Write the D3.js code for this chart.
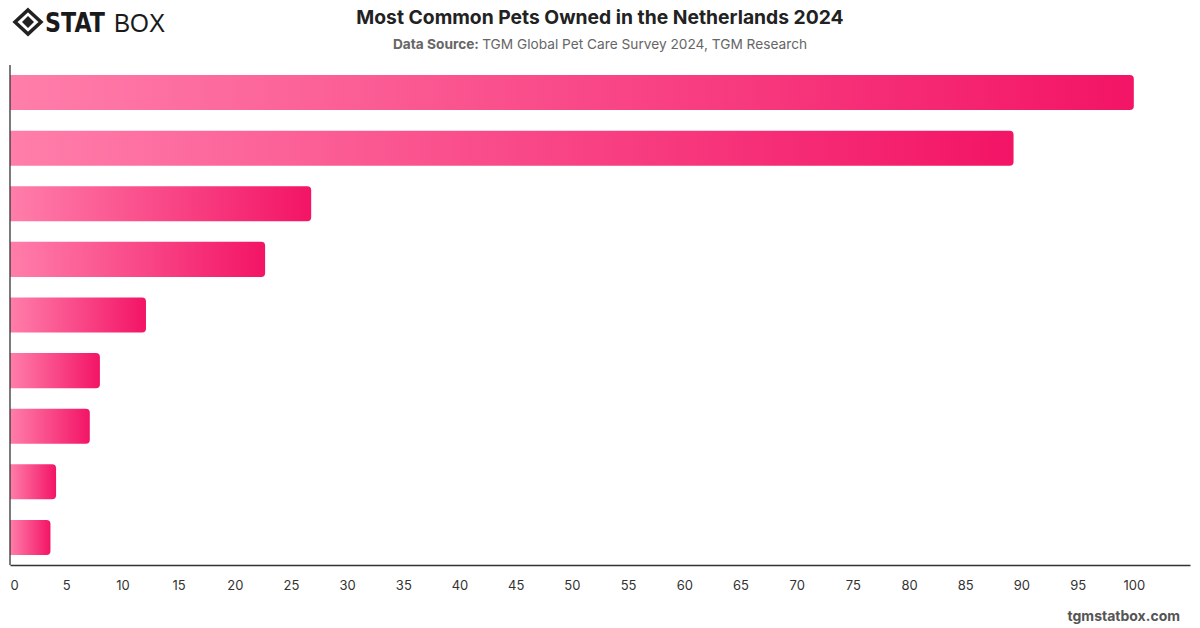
<!DOCTYPE html>
<html>
<head>
<meta charset="utf-8">
<script src="https://cdn.jsdelivr.net/npm/d3@7"></script>
<style>
  body { margin: 0; background: #fff; }
  svg { display: block; font-family: Inter, "Noto Sans", sans-serif; }
</style>
</head>
<body>
<svg id="chart" width="1200" height="628"></svg>
<script>
// categories are not labelled in the original, kept only as keys
var categories = ["Cat", "Dog", "Fish", "Bird", "Rabbit", "Hamster", "Guinea pig", "Reptile", "Other"];
var values = [100, 89.3, 26.8, 22.7, 12.1, 8.0, 7.1, 4.1, 3.6];
var tickValues = d3.range(0, 101, 5);

var svg = d3.select("#chart");
var width = +svg.attr("width");
var height = +svg.attr("height");

var margin = {top: 65, right: 10, bottom: 63, left: 10};

var x = d3.scaleLinear()
    .domain([0, 105])
    .range([margin.left, width - margin.right]);

var y = d3.scaleBand()
    .domain(categories)
    .range([margin.top, height - margin.bottom])
    .paddingInner(0.37)
    .paddingOuter(0.18);

// gradient, one per bar (bounding box units)
var defs = svg.append("defs");
var grad = defs.append("linearGradient")
    .attr("id", "barGrad")
    .attr("x1", "0%").attr("x2", "100%")
    .attr("y1", "0%").attr("y2", "0%");
grad.append("stop").attr("offset", "0%").attr("stop-color", "#ff7eaa");
grad.append("stop").attr("offset", "100%").attr("stop-color", "#f31466");

// bar with rounded right end only
var barPath = function(x0, x1, y0, h, r) {
    r = Math.min(r, (x1 - x0) / 2, h / 2);
    return "M" + x0 + "," + y0 +
        "H" + (x1 - r) +
        "Q" + x1 + "," + y0 + " " + x1 + "," + (y0 + r) +
        "V" + (y0 + h - r) +
        "Q" + x1 + "," + (y0 + h) + " " + (x1 - r) + "," + (y0 + h) +
        "H" + x0 + "Z";
};

svg.append("g")
    .attr("class", "bars")
    .selectAll("path")
    .data(values)
    .enter().append("path")
        .attr("fill", "url(#barGrad)")
        .attr("d", function(d, i) {
            return barPath(x(0), x(d), y(categories[i]), y.bandwidth(), 4);
        });

// x axis
var xAxis = svg.append("g")
    .attr("transform", "translate(0," + (height - margin.bottom) + ")")
    .call(d3.axisBottom(x)
        .tickValues(tickValues)
        .tickSize(0)
        .tickPadding(16));
xAxis.select(".domain").attr("stroke", "#333").attr("stroke-width", 1.3);
xAxis.selectAll("text")
    .attr("font-family", "Inter, sans-serif")
    .attr("font-size", 13)
    .attr("fill", "#333");
xAxis.selectAll(".tick").filter(function(d) { return d === 0; })
    .select("text").attr("dx", 4);

// y axis line only
svg.append("line")
    .attr("x1", x(0)).attr("x2", x(0))
    .attr("y1", margin.top).attr("y2", height - margin.bottom)
    .attr("stroke", "#333")
    .attr("stroke-width", 1.3);

// title
svg.append("text")
    .attr("x", 600)
    .attr("y", 24)
    .attr("text-anchor", "middle")
    .attr("font-size", 19.3)
    .attr("font-weight", "bold")
    .attr("fill", "#222")
    .text("Most Common Pets Owned in the Netherlands 2024");

var sub = svg.append("text")
    .attr("x", 600)
    .attr("y", 49)
    .attr("text-anchor", "middle")
    .attr("font-size", 13.7)
    .attr("fill", "#666");
sub.append("tspan").attr("font-weight", "bold").text("Data Source: ");
sub.append("tspan").text("TGM Global Pet Care Survey 2024, TGM Research");

// footer
svg.append("text")
    .attr("x", 1180)
    .attr("y", 621)
    .attr("text-anchor", "end")
    .attr("font-size", 14)
    .attr("font-weight", "bold")
    .attr("fill", "#555")
    .text("tgmstatbox.com");

// logo
var logo = svg.append("g").attr("transform", "translate(28,22)");
logo.append("path")
    .attr("d", "M0,-12 L13,0 L0,12 L-13,0 Z")
    .attr("fill", "none")
    .attr("stroke", "#222")
    .attr("stroke-width", 3.5);
logo.append("path")
    .attr("d", "M0,-6 L6,0 L0,6 L-6,0 Z")
    .attr("fill", "#222");
var brand = svg.append("text")
    .attr("x", 45)
    .attr("y", 32)
    .attr("font-size", 26)
    .attr("fill", "#1a1a1a");
brand.append("tspan")
    .attr("font-family", "'DejaVu Sans', sans-serif")
    .attr("font-weight", "bold")
    .attr("textLength", 60)
    .attr("lengthAdjust", "spacingAndGlyphs")
    .text("STAT");
brand.append("tspan")
    .attr("x", 114)
    .attr("font-family", "'Liberation Sans', sans-serif")
    .attr("textLength", 51)
    .attr("lengthAdjust", "spacingAndGlyphs")
    .text("BOX");
</script>
</body>
</html>
